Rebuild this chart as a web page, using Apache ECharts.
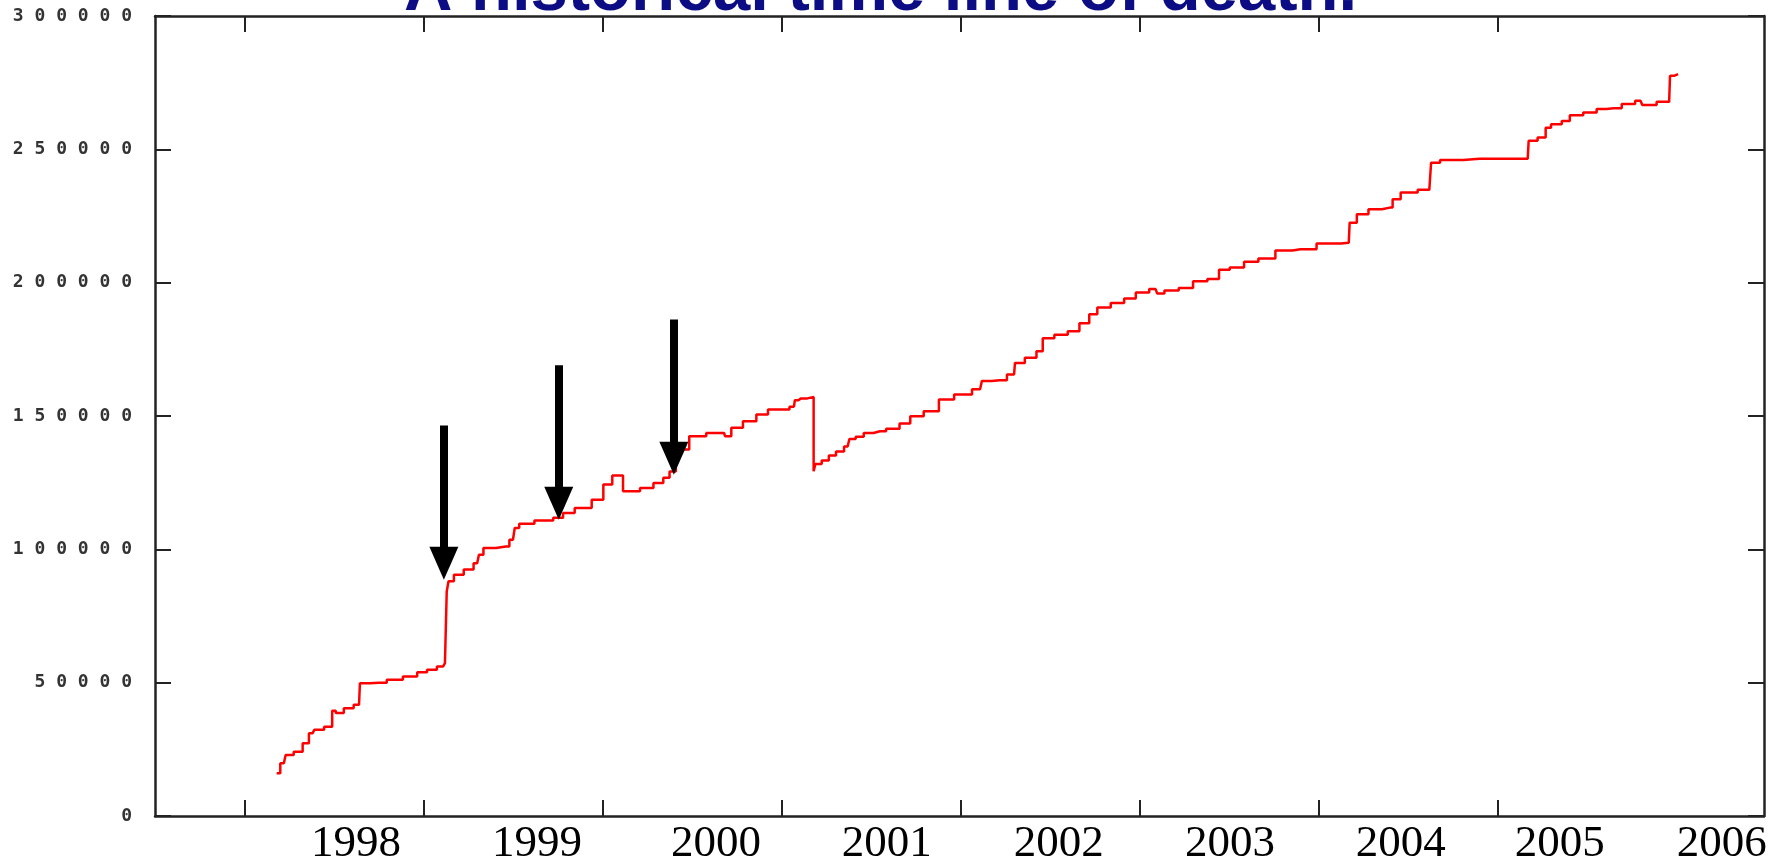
<!DOCTYPE html>
<html>
<head>
<meta charset="utf-8">
<title>A historical time line of death</title>
<script src="https://cdn.jsdelivr.net/npm/echarts@6/dist/echarts.min.js"></script>
<style>
html, body { margin: 0; padding: 0; background: #fff; }
#main { width: 1782px; height: 856px; }
</style>
</head>
<body>
<div id="main"></div>
<script>
// corners of the red curve: decimal year and count
const years = [
  1998.18, 1998.22, 1998.24, 1998.31, 1998.34, 1998.38, 1998.40, 1998.49, 1998.49, 1998.53,
  1998.58, 1998.64, 1998.65, 1998.75, 1998.84, 1998.93, 1999.00, 1999.04, 1999.11, 1999.13,
  1999.13, 1999.15, 1999.19, 1999.26, 1999.30, 1999.32, 1999.35, 1999.46, 1999.50, 1999.52,
  1999.55, 1999.69, 1999.76, 1999.80, 1999.89, 1999.99, 2000.02, 2000.09, 2000.14, 2000.17,
  2000.25, 2000.32, 2000.36, 2000.39, 2000.43, 2000.54, 2000.62, 2000.68, 2000.69, 2000.75,
  2000.82, 2000.90, 2000.95, 2001.02, 2001.07, 2001.08, 2001.11, 2001.18, 2001.18, 2001.20,
  2001.25, 2001.28, 2001.33, 2001.37, 2001.39, 2001.44, 2001.48, 2001.55, 2001.62, 2001.70,
  2001.74, 2001.85, 2001.91, 2002.02, 2002.11, 2002.13, 2002.22, 2002.30, 2002.31, 2002.41,
  2002.44, 2002.48, 2002.57, 2002.63, 2002.70, 2002.74, 2002.79, 2002.89, 2002.94, 2003.02,
  2003.09, 2003.11, 2003.17, 2003.27, 2003.33, 2003.43, 2003.46, 2003.55, 2003.62, 2003.71,
  2003.81, 2003.90, 2004.08, 2004.17, 2004.18, 2004.25, 2004.31, 2004.40, 2004.43, 2004.49,
  2004.62, 2004.64, 2004.72, 2004.90, 2005.17, 2005.18, 2005.27, 2005.27, 2005.33, 2005.39,
  2005.42, 2005.54, 2005.57, 2005.65, 2005.74, 2005.80, 2005.82, 2005.96, 2005.97, 2006.01
];
const counts = [
  16000, 19800, 22900, 24100, 27300, 31000, 32300, 33500, 39500, 38600,
  40400, 41700, 49800, 50000, 51100, 52300, 53900, 54800, 56100, 57300,
  84200, 88000, 90500, 92400, 94800, 98000, 100500, 101100, 103600, 108000,
  109600, 110800, 111800, 113600, 115500, 118600, 124300, 127700, 121800, 121800,
  123000, 124900, 126800, 129200, 137400, 142400, 143600, 143600, 142400, 145600,
  148000, 150600, 152400, 152400, 153500, 155900, 156600, 157100, 129300, 132000,
  133300, 135200, 136700, 138600, 141400, 142200, 143600, 144300, 145200, 147200,
  149900, 151800, 156200, 158100, 160000, 163100, 163400, 165600, 169900, 171800,
  174300, 179200, 180500, 181800, 184800, 188200, 190700, 192400, 194100, 196300,
  197600, 195900, 197100, 198000, 200500, 201400, 204800, 205700, 207800, 209100,
  212100, 212500, 214650, 215000, 222500, 225650, 227500, 228150, 231300, 233800,
  234800, 245000, 246000, 246500, 246500, 253200, 254400, 258100, 259400, 260600,
  262800, 263800, 265100, 265400, 267000, 268200, 266600, 267800, 277600, 278200
];

// tick marks sit on year boundaries, the year names are placed beside them
const tickYears = [1998, 1999, 2000, 2001, 2002, 2003, 2004, 2005];
const yearLabels = ['1998', '1999', '2000', '2001', '2002', '2003', '2004', '2005', '2006'];
const labelAt = [1998.623, 1999.634, 2000.634, 2001.589, 2002.550, 2003.506, 2004.461, 2005.349, 2006.254];

// the three black arrows: x, top of shaft, tip
const arrowX = [1999.114, 1999.756, 2000.399];
const arrowTop = [146400, 169000, 186200];
const arrowTip = [88600, 111100, 128000];

const titleText = 'A historical time line of death.';

let myChart = echarts.init(document.getElementById('main'));

// arrow head is centred on the line end, so stop the line half a head above the tip
const headW = 29, headH = 33;
const valuePerPx = 300000 / 799;
let arrows = arrowX.map((x, i) => [
  { coord: [x, arrowTop[i]] },
  { coord: [x, arrowTip[i] + headH / 2 * valuePerPx] }
]);

let frame = { onZero: false, lineStyle: { color: '#222', width: 2.5 } };
let ticks = { inside: true, length: 16, lineStyle: { color: '#222', width: 2 } };

let option = {
  backgroundColor: '#fff',
  animation: false,
  title: {
    text: titleText,
    left: 399,
    top: -47,
    textStyle: {
      fontFamily: 'Liberation Sans',
      fontWeight: 'bold',
      fontSize: 67,
      color: '#0c0c84'
    }
  },
  grid: { left: 155, right: 18, top: 16, bottom: 40, containLabel: false, outerBoundsMode: 'none' },
  xAxis: [
    {
      type: 'value',
      position: 'bottom',
      min: 1997.5,
      max: 2006.49,
      axisLine: frame,
      axisTick: Object.assign({ customValues: tickYears }, ticks),
      splitLine: { show: false },
      axisLabel: {
        customValues: labelAt,
        formatter: (v) => {
          let i = labelAt.indexOf(v);
          return i >= 0 ? yearLabels[i] : String(Math.floor(v));
        },
        fontFamily: 'Liberation Serif',
        fontSize: 45,
        color: '#000',
        margin: 6
      }
    },
    {
      type: 'value',
      position: 'top',
      min: 1997.5,
      max: 2006.49,
      axisLine: frame,
      axisTick: Object.assign({ customValues: tickYears }, ticks),
      splitLine: { show: false },
      axisLabel: { show: false }
    }
  ],
  yAxis: [
    {
      type: 'value',
      position: 'left',
      min: 0,
      max: 300000,
      interval: 50000,
      axisLine: frame,
      axisTick: ticks,
      splitLine: { show: false },
      axisLabel: {
        formatter: (v) => String(v).split('').join(' '),
        fontFamily: 'DejaVu Sans Mono',
        fontWeight: 'bold',
        fontSize: 18,
        color: '#333',
        margin: 23
      }
    },
    {
      type: 'value',
      position: 'right',
      min: 0,
      max: 300000,
      interval: 50000,
      axisLine: frame,
      axisTick: ticks,
      splitLine: { show: false },
      axisLabel: { show: false }
    }
  ],
  series: [
    {
      type: 'line',
      data: years.map((y, i) => [y, counts[i]]),
      step: 'middle',
      symbol: 'none',
      lineStyle: { color: '#ff0000', width: 2.5 },
      markLine: {
        silent: true,
        symbol: ['none', 'triangle'],
        symbolSize: [headW, headH],
        label: { show: false },
        lineStyle: { color: '#000', width: 8, type: 'solid' },
        data: arrows
      }
    }
  ]
};
myChart.setOption(option);
</script>
</body>
</html>
